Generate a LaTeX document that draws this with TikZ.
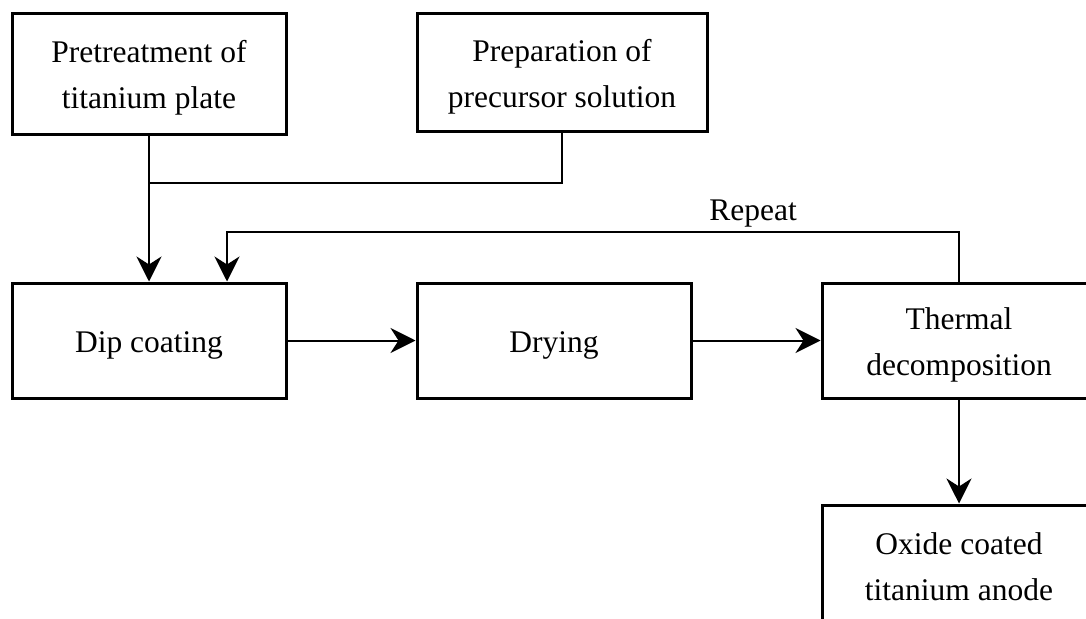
\documentclass[tikz,border=0pt]{standalone}
\usepackage{fontspec}
\setmainfont{Liberation Serif}
\usetikzlibrary{arrows.meta}
\newcommand{\mystrut}{\rule{0pt}{30pt}}
\begin{document}
\begin{tikzpicture}[x=1pt,y=-1pt,
  box/.style={draw, line width=3pt, rectangle, align=center, inner sep=0pt,
    font=\fontsize{31.5}{46}\selectfont, minimum width=274pt, minimum height=115pt},
  conn/.style={line width=2pt},
  arr/.style={line width=2pt, -{Stealth[length=25pt,width=25pt,inset=8pt]}}]
\useasboundingbox (0,0) rectangle (1086,618);
\clip (0,0) rectangle (1086,618);
\node[box, minimum height=120pt] (pre) at (149,74) {\mystrut Pretreatment of\\titanium plate};
\node[box, minimum width=290pt, minimum height=117pt] (prep) at (562,72.5) {\mystrut Preparation of\\precursor solution};
\node[box] (dip) at (149,340.5) {\mystrut Dip coating};
\node[box] (dry) at (554,340.5) {\mystrut Drying};
\node[box] (therm) at (959,340.5) {\mystrut Thermal\\decomposition};
\node[box] (oxide) at (959,562.5) {\mystrut Oxide coated\\titanium anode};
\coordinate (j) at (149,183);
\coordinate (r) at (227,232);
\node[font=\fontsize{31.5}{46}\selectfont, inner sep=0pt] (rep) at (753,214) {Repeat};
\draw[conn] (prep.south) |- (j);
\draw[arr] (pre.south) -- (dip.north);
\draw[arr] (therm.north) |- (r) -- (dip.north -| r);
\draw[arr] (dip.east) -- (dry.west);
\draw[arr] (dry.east) -- (therm.west);
\draw[arr] (therm.south) -- (oxide.north);
\end{tikzpicture}
\end{document}
